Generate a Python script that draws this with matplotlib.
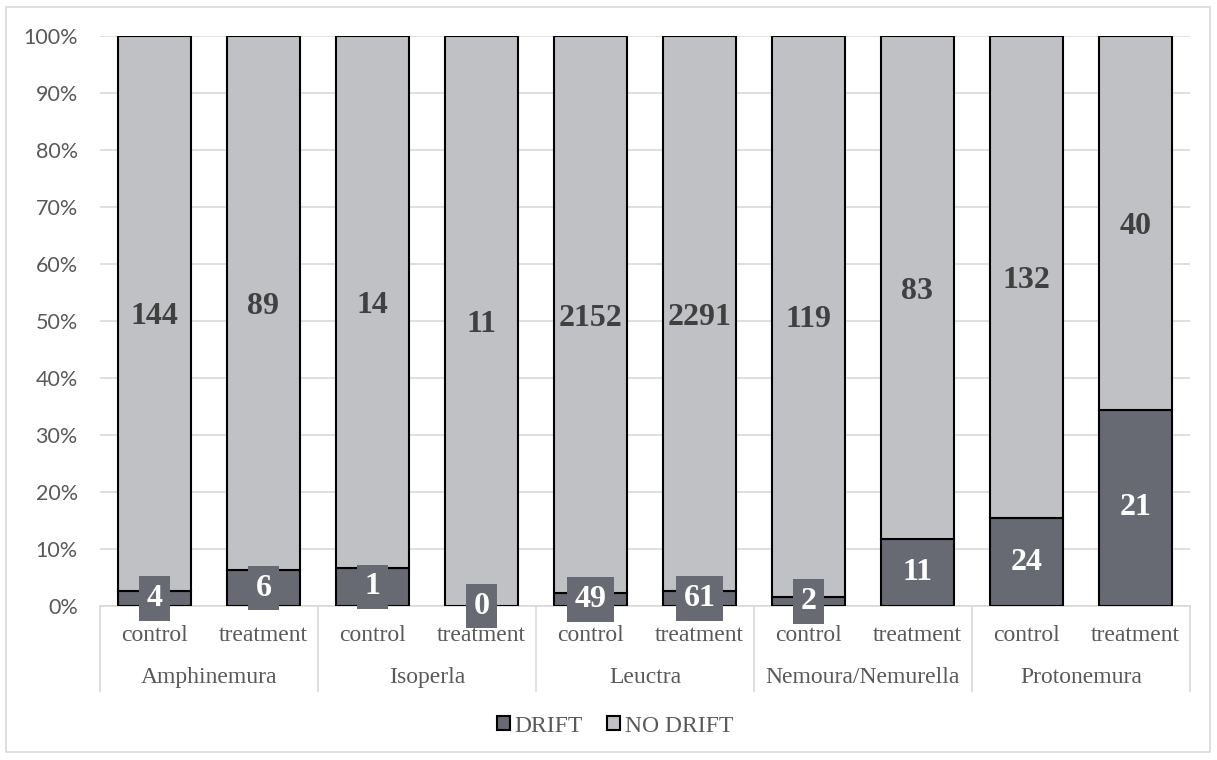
import matplotlib.pyplot as plt
import numpy as np
from matplotlib.patches import Rectangle

genera = ['Amphinemura', 'Isoperla', 'Leuctra', 'Nemoura/Nemurella', 'Protonemura']
treatments = ['control', 'treatment']
drift = [4, 6, 1, 0, 49, 61, 2, 11, 24, 21]
no_drift = [144, 89, 14, 11, 2152, 2291, 119, 83, 132, 40]

drift_col = '#676a72'
nodrift_col = '#c0c1c5'
serif = 'Liberation Serif'

drift = np.array(drift, dtype=float)
no_drift = np.array(no_drift, dtype=float)
total = drift + no_drift
p_drift = drift / total * 100
p_nodrift = no_drift / total * 100

W, H = 1217, 760
fig = plt.figure(figsize=(W / 100, H / 100), dpi=100)
fig.patches.append(Rectangle((6 / W, 8 / H), 1204 / W, 745 / H, transform=fig.transFigure,
                             fill=False, ec='#d9d9d9', lw=1.2))

ax = fig.add_axes([100 / W, (H - 606) / H, 1090 / W, 570 / H])
n = len(drift)
x = np.arange(n) + 0.5
bw = 0.67

ax.bar(x, p_drift, bw, color=drift_col, edgecolor='black', lw=1.5, zorder=3, label='DRIFT')
ax.bar(x, p_nodrift, bw, bottom=p_drift, color=nodrift_col, edgecolor='black', lw=1.5,
       zorder=3, label='NO DRIFT')

ax.set_xlim(0, n)
ax.set_ylim(0, 100)
ax.set_yticks(np.arange(0, 101, 10))
ax.set_yticklabels([f'{v}%' for v in range(0, 101, 10)], fontsize=15.5, color='#595959',
                   family='Lato')
ax.yaxis.grid(True, color='#d9d9d9', lw=1.2)
ax.set_axisbelow(True)
ax.tick_params(axis='y', length=0, pad=16)
ax.set_xticks([])
for s in ['top', 'right', 'left']:
    ax.spines[s].set_visible(False)
ax.spines['bottom'].set_color('#d9d9d9')
ax.spines['bottom'].set_linewidth(1.2)

# value labels
for i in range(n):
    ax.text(x[i], p_drift[i] + p_nodrift[i] / 2, f'{int(no_drift[i])}', ha='center',
            va='center_baseline', fontsize=23, fontweight='bold', color='#404040',
            family=serif, zorder=5)
    ax.text(x[i], p_drift[i] / 2, f'{int(drift[i])}', ha='center', va='center',
            fontsize=23, fontweight='bold', color='white', family=serif, zorder=5,
            bbox=dict(boxstyle='square,pad=0.25', fc=drift_col, ec='none'))

# two-level category axis
tr = ax.get_xaxis_transform()
for i in range(n):
    ax.text(x[i], -0.051, treatments[i % 2], transform=tr, ha='center', va='center',
            fontsize=17, color='#595959', family=serif)
for g, name in enumerate(genera):
    ax.text(2 * g + 1, -0.126, name, transform=tr, ha='center', va='center',
            fontsize=17, color='#595959', family=serif)
for k in range(len(genera) + 1):
    ax.plot([2 * k, 2 * k], [0, -0.149], transform=tr, color='#d9d9d9', lw=1.2,
            clip_on=False)

leg = fig.legend(loc='center', bbox_to_anchor=(615 / W, (H - 726) / H), ncol=2,
                 frameon=False, handlelength=0.55, handleheight=0.55, handletextpad=0.2,
                 columnspacing=1.0, prop={'family': serif, 'size': 17})
for t in leg.get_texts():
    t.set_color('#595959')
for h in leg.legend_handles:
    h.set_linewidth(1.5)

fig.savefig('out.png', dpi=100)
